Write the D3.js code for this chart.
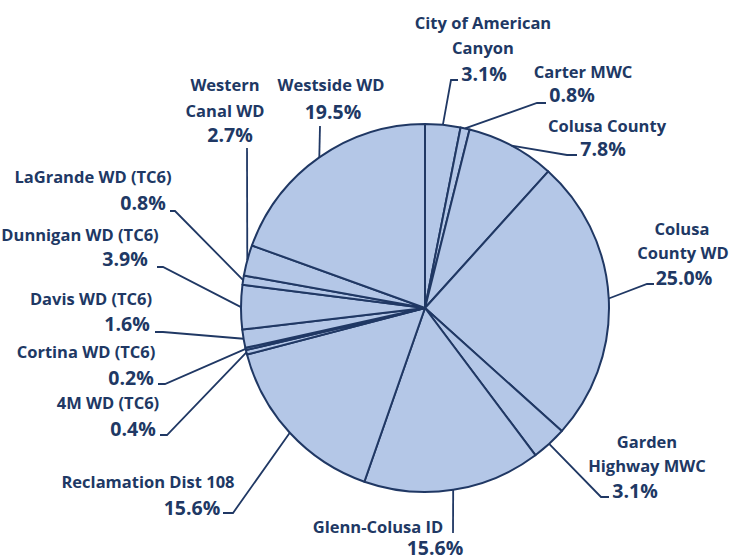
<!DOCTYPE html>
<html>
<head>
<meta charset="utf-8">
<script src="https://cdn.jsdelivr.net/npm/d3@7"></script>
<style>
  body { margin: 0; background: #fff; }
  .lbl { font-family: "Open Sans", Lato, sans-serif; font-weight: bold; fill: #203864; }
</style>
</head>
<body>
<div class="pie"></div>
<script>
// slice names (clockwise from 12 o'clock) and shares in percent
var names = [
  ["City of American", "Canyon"],
  ["Carter MWC"],
  ["Colusa County"],
  ["Colusa", "County WD"],
  ["Garden", "Highway MWC"],
  ["Glenn-Colusa ID"],
  ["Reclamation Dist 108"],
  ["4M WD (TC6)"],
  ["Cortina WD (TC6)"],
  ["Davis WD (TC6)"],
  ["Dunnigan WD (TC6)"],
  ["LaGrande WD (TC6)"],
  ["Western", "Canal WD"],
  ["Westside WD"]
];
var shares = [3.1, 0.8, 7.8, 25.0, 3.1, 15.6, 15.6, 0.4, 0.2, 1.6, 3.9, 0.8, 2.7, 19.5];

// where each label sits (name line centres, percent centre, leader elbow + tail)
var labelLayout = [
  { lines: [[483, 29], [483, 54]], pct: [484, 81], elbow: [451, 80], tail: [458, 80] },
  { lines: [[583, 78]], pct: [572, 102], elbow: [537, 103], tail: [546, 103] },
  { lines: [[607, 132]], pct: [603, 156], elbow: [567, 155], tail: [577, 155] },
  { lines: [[682, 235], [683, 259]], pct: [684, 285], elbow: [647, 284], tail: [654, 284] },
  { lines: [[647, 448], [647, 472]], pct: [635, 498], elbow: [601, 497], tail: [609, 497] },
  { lines: [[378, 533]], pct: [435, 555], elbow: [453, 533], tail: [453, 533] },
  { lines: [[148, 488]], pct: [192, 515], elbow: [233, 513], tail: [223, 513] },
  { lines: [[108, 409]], pct: [133, 436], elbow: [167, 435], tail: [160, 435] },
  { lines: [[86, 358]], pct: [131, 385], elbow: [165, 384], tail: [158, 384] },
  { lines: [[91, 305]], pct: [127, 331], elbow: [163, 332], tail: [155, 332] },
  { lines: [[80, 241]], pct: [125, 266], elbow: [163, 267], tail: [157, 267] },
  { lines: [[93, 183]], pct: [143, 210], elbow: [175, 211], tail: [170, 211] },
  { lines: [[225, 91], [225, 117]], pct: [230, 142], elbow: [247, 148], tail: [247, 148] },
  { lines: [[331, 91]], pct: [333, 119], elbow: [320, 126], tail: [320, 126] }
];

var svgWidth = 731;
var svgHeight = 560;
var cx = 425, cy = 308, radius = 184;
var navy = "#203864";

var svg = d3.select(".pie")
  .append("svg")
  .attr("width", svgWidth)
  .attr("height", svgHeight);

var chartGroup = svg.append("g")
  .attr("transform", `translate(${cx}, ${cy})`);

var pie = d3.pie().sort(null).value(d => d);
var arcs = pie(shares);

var arc = d3.arc().innerRadius(0).outerRadius(radius);
var edgeArc = d3.arc().innerRadius(radius).outerRadius(radius);

chartGroup.selectAll("path.slice")
  .data(arcs)
  .enter()
  .append("path")
  .attr("class", "slice")
  .attr("d", arc)
  .attr("fill", "#b4c7e7")
  .attr("stroke", navy)
  .attr("stroke-width", 2)
  .attr("stroke-linejoin", "round");

// leader lines from the slice edge to the label
svg.selectAll("polyline.leader")
  .data(arcs)
  .enter()
  .append("polyline")
  .attr("class", "leader")
  .attr("points", (d, i) => {
    var p = edgeArc.centroid(d);
    var L = labelLayout[i];
    return [[p[0] + cx, p[1] + cy], L.elbow, L.tail].map(q => q.join(",")).join(" ");
  })
  .attr("fill", "none")
  .attr("stroke", navy)
  .attr("stroke-width", 1.8);

// labels
var labels = svg.selectAll("g.label")
  .data(arcs)
  .enter()
  .append("g")
  .attr("class", "label");

labels.each(function(d, i) {
  var g = d3.select(this);
  var L = labelLayout[i];
  names[i].forEach((t, j) => {
    g.append("text")
      .attr("class", "lbl")
      .attr("x", L.lines[j][0])
      .attr("y", L.lines[j][1])
      .attr("text-anchor", "middle")
      .style("font-size", "16.5px")
      .text(t);
  });
  g.append("text")
    .attr("class", "lbl")
    .attr("x", L.pct[0])
    .attr("y", L.pct[1])
    .attr("text-anchor", "middle")
    .style("font-size", "19.5px")
    .text(shares[i].toFixed(1) + "%");
});
</script>
</body>
</html>
